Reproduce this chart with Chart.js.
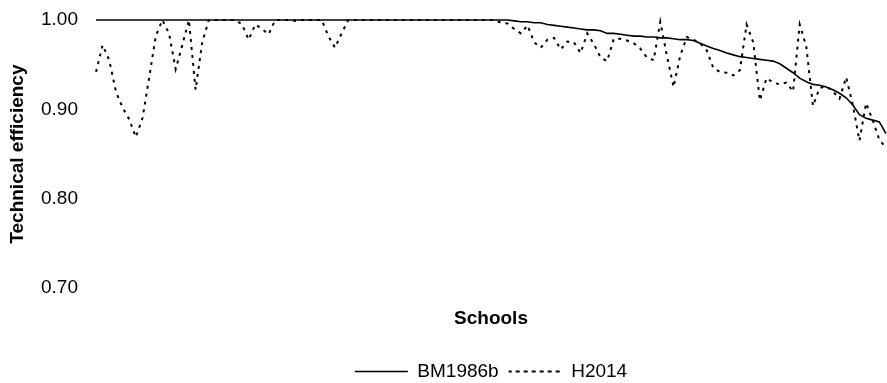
<!DOCTYPE html>
<html>
<head>
<meta charset="utf-8">
<script src="https://cdn.jsdelivr.net/npm/chart.js@4.4.1/dist/chart.umd.min.js"></script>
<style>
  html, body { margin: 0; padding: 0; background: #fff; }
  #wrap { width: 887px; height: 383px; }
</style>
</head>
<body>
<div id="wrap"><canvas id="myChart" width="887" height="383"></canvas></div>
<script>
// Technical efficiency per school, schools sorted by BM1986b
var bm1986b = [
  1, 1, 1, 1, 1, 1, 1, 1, 1, 1,
  1, 1, 1, 1, 1, 1, 1, 1, 1, 1,
  1, 1, 1, 1, 1, 1, 1, 1, 1, 1,
  1, 1, 1, 1, 1, 1, 1, 1, 1, 1,
  1, 1, 1, 1, 1, 1, 1, 1, 1, 1,
  1, 1, 1, 1, 1, 1, 1, 1, 1, 1,
  1, 1, 1, 0.999, 0.998, 0.998, 0.997, 0.997, 0.995, 0.994,
  0.993, 0.992, 0.991, 0.990, 0.989, 0.989, 0.988, 0.985, 0.985, 0.984,
  0.983, 0.982, 0.982, 0.981, 0.981, 0.980, 0.980, 0.979, 0.978, 0.978,
  0.977, 0.974, 0.971, 0.968, 0.966, 0.963, 0.961, 0.959, 0.958, 0.957,
  0.956, 0.955, 0.954, 0.951, 0.946, 0.941, 0.935, 0.931, 0.928, 0.927,
  0.925, 0.922, 0.918, 0.913, 0.905, 0.894, 0.890, 0.888, 0.886, 0.873
];

var h2014 = [
  0.942, 0.972, 0.955, 0.920, 0.902, 0.889, 0.869, 0.890, 0.935, 0.982,
  1, 0.985, 0.945, 0.972, 1, 0.922, 0.975, 1, 1, 1,
  1, 1, 0.995, 0.978, 0.995, 0.990, 0.984, 1, 1, 1,
  0.999, 1, 1, 1, 1, 0.982, 0.969, 0.985, 1, 1,
  1, 1, 1, 1, 1, 1, 1, 1, 1, 1,
  1, 1, 1, 1, 1, 1, 1, 1, 1, 1,
  1, 0.997, 0.996, 0.990, 0.985, 0.994, 0.975, 0.969, 0.978, 0.980,
  0.967, 0.976, 0.975, 0.963, 0.985, 0.973, 0.958, 0.954, 0.979, 0.979,
  0.977, 0.974, 0.968, 0.958, 0.955, 0.998, 0.960, 0.925, 0.960, 0.981,
  0.978, 0.974, 0.966, 0.946, 0.942, 0.941, 0.938, 0.944, 0.995, 0.975,
  0.910, 0.935, 0.930, 0.928, 0.930, 0.920, 0.995, 0.970, 0.904, 0.924,
  0.926, 0.920, 0.912, 0.936, 0.905, 0.865, 0.907, 0.888, 0.866, 0.857
];

var schools = [];
for (var i = 0; i < bm1986b.length; i++) {
  schools.push(String(i + 1));
}

var yTicks = [0.70, 0.80, 0.90, 1.00];

var FONT = '"Liberation Sans", Arial, sans-serif';

var ctx = document.getElementById('myChart').getContext('2d');
var chart = new Chart(ctx, {
  type: 'line',
  data: {
    labels: schools,
    datasets: [{
        label: 'BM1986b',
        data: bm1986b,
        borderColor: '#000',
        backgroundColor: 'rgba(0,0,0,0)',
        borderWidth: 1.6,
        pointRadius: 0,
        tension: 0,
        clip: false
      },
      {
        label: 'H2014',
        data: h2014,
        borderColor: '#000',
        backgroundColor: 'rgba(0,0,0,0)',
        borderWidth: 2,
        borderDash: [3, 5],
        pointRadius: 0,
        tension: 0,
        clip: false
      }
    ]
  },
  options: {
    responsive: false,
    animation: false,
    events: [],
    layout: {
      padding: { top: 20, right: 1, left: 0, bottom: -8 }
    },
    plugins: {
      tooltip: { enabled: false },
      legend: {
        position: 'bottom',
        fullSize: false,
        labels: {
          color: '#000',
          font: { family: FONT, size: 19 },
          boxWidth: 53,
          boxHeight: 0,
          padding: 10
        }
      }
    },
    scales: {
      x: {
        grid: { display: false, drawTicks: false },
        border: { display: false },
        ticks: { display: false },
        title: {
          display: true,
          text: 'Schools',
          color: '#000',
          font: { family: FONT, size: 19, weight: 'bold' },
          padding: { top: 19, bottom: 22 }
        }
      },
      y: {
        min: yTicks[0],
        max: yTicks[yTicks.length - 1],
        afterBuildTicks: function (scale) {
          scale.ticks = yTicks.map(function (v) { return { value: v }; });
        },
        afterFit: function (scale) {
          // fixed axis width, and no extra room above/below for the labels
          scale.width = 96;
          scale.paddingTop = 0;
          scale.paddingBottom = 0;
        },
        grid: { display: false, drawTicks: false },
        border: { display: false },
        ticks: {
          color: '#000',
          padding: 18,
          font: { family: FONT, size: 19 },
          callback: function (v) { return Number(v).toFixed(2); }
        },
        title: {
          display: true,
          text: 'Technical efficiency',
          color: '#000',
          font: { family: FONT, size: 19, weight: 'bold' },
          padding: { top: 6, bottom: 6 }
        }
      }
    }
  }
});
</script>
</body>
</html>
